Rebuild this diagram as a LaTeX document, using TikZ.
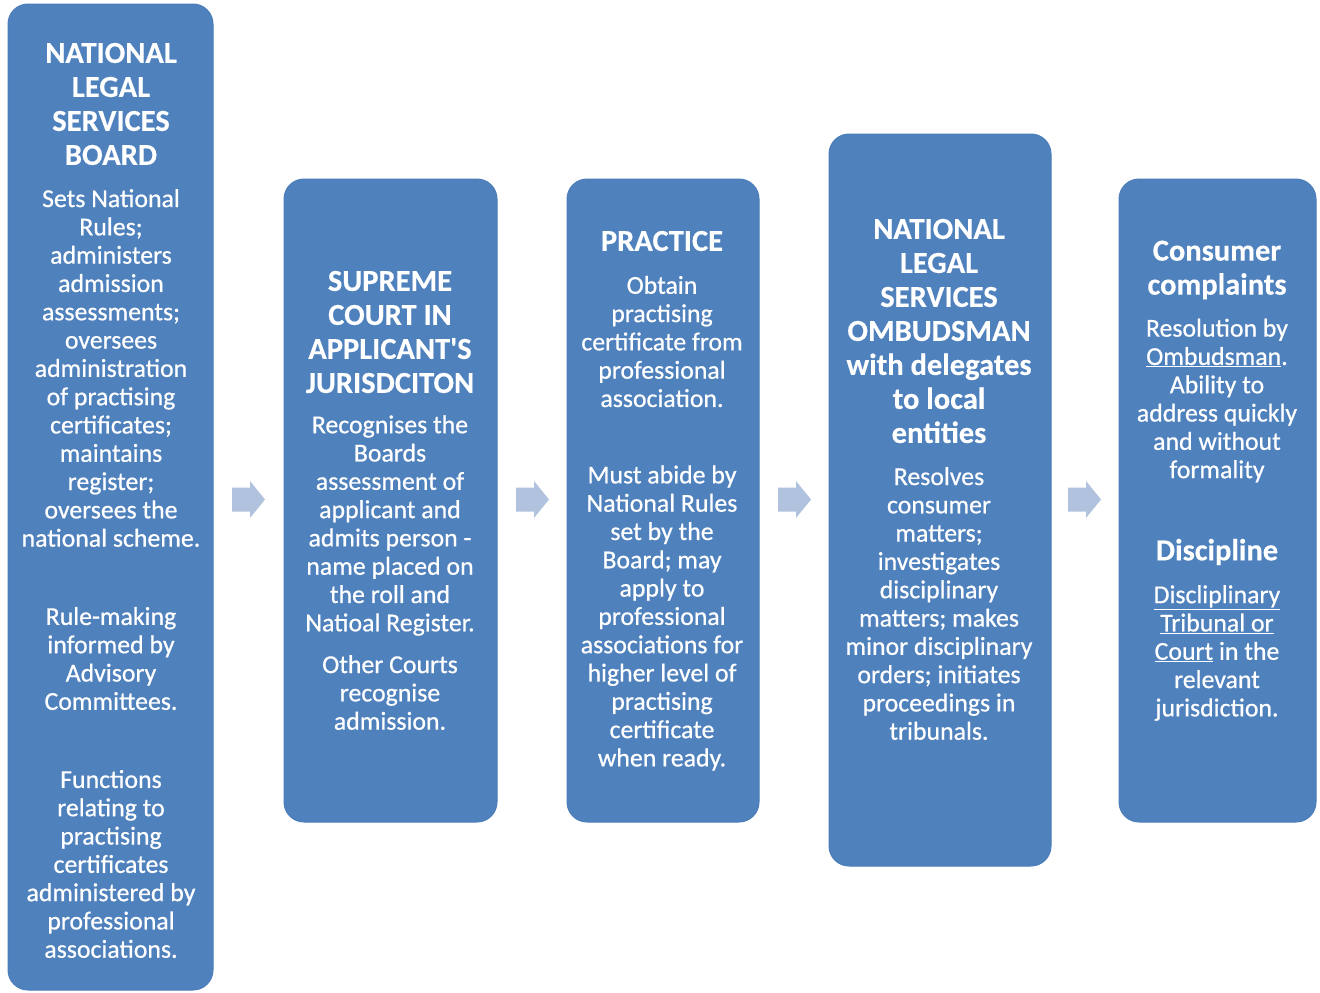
\documentclass[tikz,border=0pt]{standalone}
\usepackage{fontspec}
\setmainfont{Carlito}[FakeBold=0.6]
\newfontfamily\headfont{Carlito}[FakeBold=0.3]
\definecolor{boxblue}{HTML}{4F81BD}
\definecolor{boxedge}{HTML}{4A7DBA}
\definecolor{arrowblue}{HTML}{B1C2DF}
\begin{document}
\begin{tikzpicture}[x=1pt,y=-1pt,
  panel/.style={draw=boxedge, fill=boxblue, rounded corners=20pt, line width=1pt},
  head/.style={text=white, font=\headfont\fontsize{30.5}{34}\selectfont\bfseries, align=center, inner sep=0pt},
  body/.style={text=white, font=\fontsize{25.8}{28.3}\selectfont, align=center, inner sep=0pt},
  flowarrow/.pic={\fill[arrowblue] (0,-12) -- (18,-12) -- (18,-18.5) -- (33,0) -- (18,18.5) -- (18,12) -- (0,12) -- cycle;}
]
\useasboundingbox (0,0) rectangle (1320,993);
% panels
\draw[panel] (8,4) rectangle (213,990);
\draw[panel] (284,179) rectangle (497,822);
\draw[panel] (567,179) rectangle (759,822);
\draw[panel] (829,134) rectangle (1051,866);
\draw[panel] (1119,179) rectangle (1316,822);
% arrows
\pic at (232,499.5) {flowarrow};
\pic at (516,499.5) {flowarrow};
\pic at (778,499.5) {flowarrow};
\pic at (1068,499.5) {flowarrow};
% box 1
\node[head] (h1) at (111,104) {NATIONAL\\LEGAL\\SERVICES\\BOARD};
\node[body] (b1a) at (111,368) {Sets National\\Rules;\\administers\\admission\\assessments;\\oversees\\administration\\of practising\\certificates;\\maintains\\register;\\oversees the\\national scheme.};
\node[body] (b1b) at (111,658.5) {Rule-making\\informed by\\Advisory\\Committees.};
\node[body] (b1c) at (111,864) {Functions\\relating to\\practising\\certificates\\administered by\\professional\\associations.};
% box 2
\node[head] (h2) at (390,332) {SUPREME\\COURT IN\\APPLICANT\char"27 S\\JURISDCITON};
\node[body] (b2a) at (390,525.5) {Recognises the\\Boards\\assessment of\\applicant and\\admits person -\\name placed on\\the roll and\\Natioal Register.};
\node[body] (b2b) at (390,692.5) {Other Courts\\recognise\\admission.};
% box 3
\node[head] (h3) at (662,241) {PRACTICE};
\node[body] (b3a) at (662,341.5) {Obtain\\practising\\certificate from\\professional\\association.};
\node[body] (b3b) at (662,618) {Must abide by\\National Rules\\set by the\\Board; may\\apply to\\professional\\associations for\\higher level of\\practising\\certificate\\when ready.};
% box 4
\node[head] (h4) at (939,331) {NATIONAL\\LEGAL\\SERVICES\\OMBUDSMAN\\with delegates\\to local\\entities};
\node[body] (b4a) at (939,603.5) {Resolves\\consumer\\matters;\\investigates\\disciplinary\\matters; makes\\minor disciplinary\\orders; initiates\\proceedings in\\tribunals.};
% box 5
\node[head] (h5a) at (1217,270) {Consumer\\complaints};
\node[body] (b5a) at (1217,400.5) {Resolution by\\\underline{Ombudsman}.\\Ability to\\address quickly\\and without\\formality};
\node[head] (h5b) at (1217,552) {Discipline};
\node[body] (b5b) at (1217,653) {\underline{Discliplinary}\\\underline{Tribunal or}\\\underline{Court} in the\\relevant\\jurisdiction.};
\end{tikzpicture}
\end{document}
